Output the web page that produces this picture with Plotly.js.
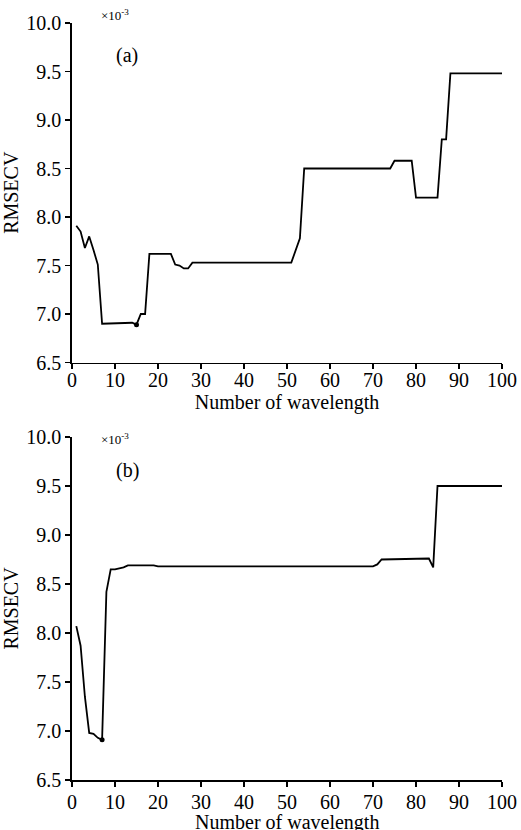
<!DOCTYPE html>
<html>
<head>
<meta charset="utf-8">
<script src="https://cdn.plot.ly/plotly-3.0.1.min.js"></script>
<style>
  html, body { margin: 0; padding: 0; background: #fff; }
  #chart { width: 521px; height: 830px; }
</style>
</head>
<body>
<div id="chart"></div>
<script>
// Panel (a): breakpoints of the RMSECV curve (values x 10^-3)
const aX = [1, 2, 3, 4, 5, 6, 7, 14, 15, 16, 17, 18, 23, 24, 25, 26, 27, 28, 51, 52, 53, 54, 74, 75, 79, 80, 85, 86, 87, 88, 100];
const aY = [7.91, 7.85, 7.68, 7.80, 7.66, 7.51, 6.90, 6.91, 6.89, 7.00, 7.00, 7.62, 7.62, 7.51, 7.50, 7.47, 7.47, 7.53, 7.53, 7.66, 7.78, 8.50, 8.50, 8.58, 8.58, 8.20, 8.20, 8.80, 8.80, 9.48, 9.48];
const aMinX = [15];
const aMinY = [6.89];

// Panel (b)
const bX = [1, 2, 3, 4, 5, 6, 7, 8, 9, 10, 11, 12, 13, 19, 20, 70, 71, 72, 83, 84, 85, 100];
const bY = [8.07, 7.87, 7.35, 6.98, 6.97, 6.93, 6.91, 8.42, 8.65, 8.65, 8.66, 8.67, 8.69, 8.69, 8.68, 8.68, 8.70, 8.75, 8.76, 8.67, 9.50, 9.50];
const bMinX = [7];
const bMinY = [6.91];

const xTicks = [0, 10, 20, 30, 40, 50, 60, 70, 80, 90, 100];
const yTicks = [6.5, 7.0, 7.5, 8.0, 8.5, 9.0, 9.5, 10.0];
const xTitle = 'Number of wavelength';
const yTitle = 'RMSECV';
const scaleLabel = '×10<sup>-3</sup>';
const panelLabels = ['(a)', '(b)'];

const FONT = 'Liberation Serif, Times New Roman, serif';
const FS = 20;
const lineStyle = { color: '#000', width: 1.8 };
const markerStyle = { color: '#000', size: 5 };

const traces = [
  { x: aX, y: aY, xaxis: 'x', yaxis: 'y', mode: 'lines', line: lineStyle, hoverinfo: 'skip' },
  { x: aMinX, y: aMinY, xaxis: 'x', yaxis: 'y', mode: 'markers', marker: markerStyle },
  { x: bX, y: bY, xaxis: 'x2', yaxis: 'y2', mode: 'lines', line: lineStyle, hoverinfo: 'skip' },
  { x: bMinX, y: bMinY, xaxis: 'x2', yaxis: 'y2', mode: 'markers', marker: markerStyle }
];

function xAxis(anchor, labelShift, titleText, titleStandoff) {
  const ax = {
    anchor: anchor, domain: [0, 1], range: [0, 100],
    tickvals: xTicks, ticktext: xTicks.map(String),
    showline: true, linecolor: '#000', linewidth: 1.8,
    ticks: 'outside', ticklen: 5, tickwidth: 1.6, tickcolor: '#000',
    ticklabelstandoff: labelShift,
    showgrid: false, zeroline: false,
    tickfont: { family: FONT, size: FS, color: '#000' }
  };
  if (titleText) {
    ax.title = { text: titleText, standoff: titleStandoff, font: { family: FONT, size: FS, color: '#000' } };
  }
  return ax;
}
function yAxis(anchor, domain) {
  return {
    anchor: anchor, domain: domain, range: [6.5, 10],
    tickvals: yTicks, ticktext: yTicks.map(v => v.toFixed(1)),
    showline: true, linecolor: '#000', linewidth: 1.8,
    ticks: 'outside', ticklen: 5, tickwidth: 1.6, tickcolor: '#000',
    showgrid: false, zeroline: false,
    tickfont: { family: FONT, size: FS, color: '#000' },
    title: { text: yTitle, standoff: 3, font: { family: FONT, size: FS, color: '#000' } }
  };
}

const layout = {
  width: 521, height: 830,
  margin: { l: 72, r: 19, t: 23, b: 50 },
  paper_bgcolor: '#fff', plot_bgcolor: '#fff',
  showlegend: false,
  font: { family: FONT, color: '#000' },
  xaxis: xAxis('y', -6, xTitle, 0),
  yaxis: yAxis('x', [0.5515, 1]),
  xaxis2: xAxis('y2', -2, null, 0),
  yaxis2: yAxis('x2', [0, 0.4531]),
  annotations: [
    { xref: 'x', yref: 'y', x: 10, y: 9.98, text: scaleLabel, showarrow: false, font: { family: FONT, size: 13, color: '#000' }, yanchor: 'bottom' },
    { xref: 'x', yref: 'y', x: 12.8, y: 9.66, text: panelLabels[0], showarrow: false, font: { family: FONT, size: FS, color: '#000' } },
    { xref: 'x2', yref: 'y2', x: 10, y: 9.98, text: scaleLabel, showarrow: false, font: { family: FONT, size: 13, color: '#000' }, yanchor: 'middle' },
    { xref: 'x2', yref: 'y2', x: 12.8, y: 9.66, text: panelLabels[1], showarrow: false, font: { family: FONT, size: FS, color: '#000' } },
    // x-axis title of panel (b), partly cut by the bottom edge as in the reference
    { xref: 'x2 domain', yref: 'y2 domain', x: 0.5, y: -0.085, text: xTitle, showarrow: false, xanchor: 'center', yanchor: 'top', font: { family: FONT, size: FS, color: '#000' } }
  ]
};

Plotly.newPlot('chart', traces, layout, { displayModeBar: false, staticPlot: true });
</script>
</body>
</html>
